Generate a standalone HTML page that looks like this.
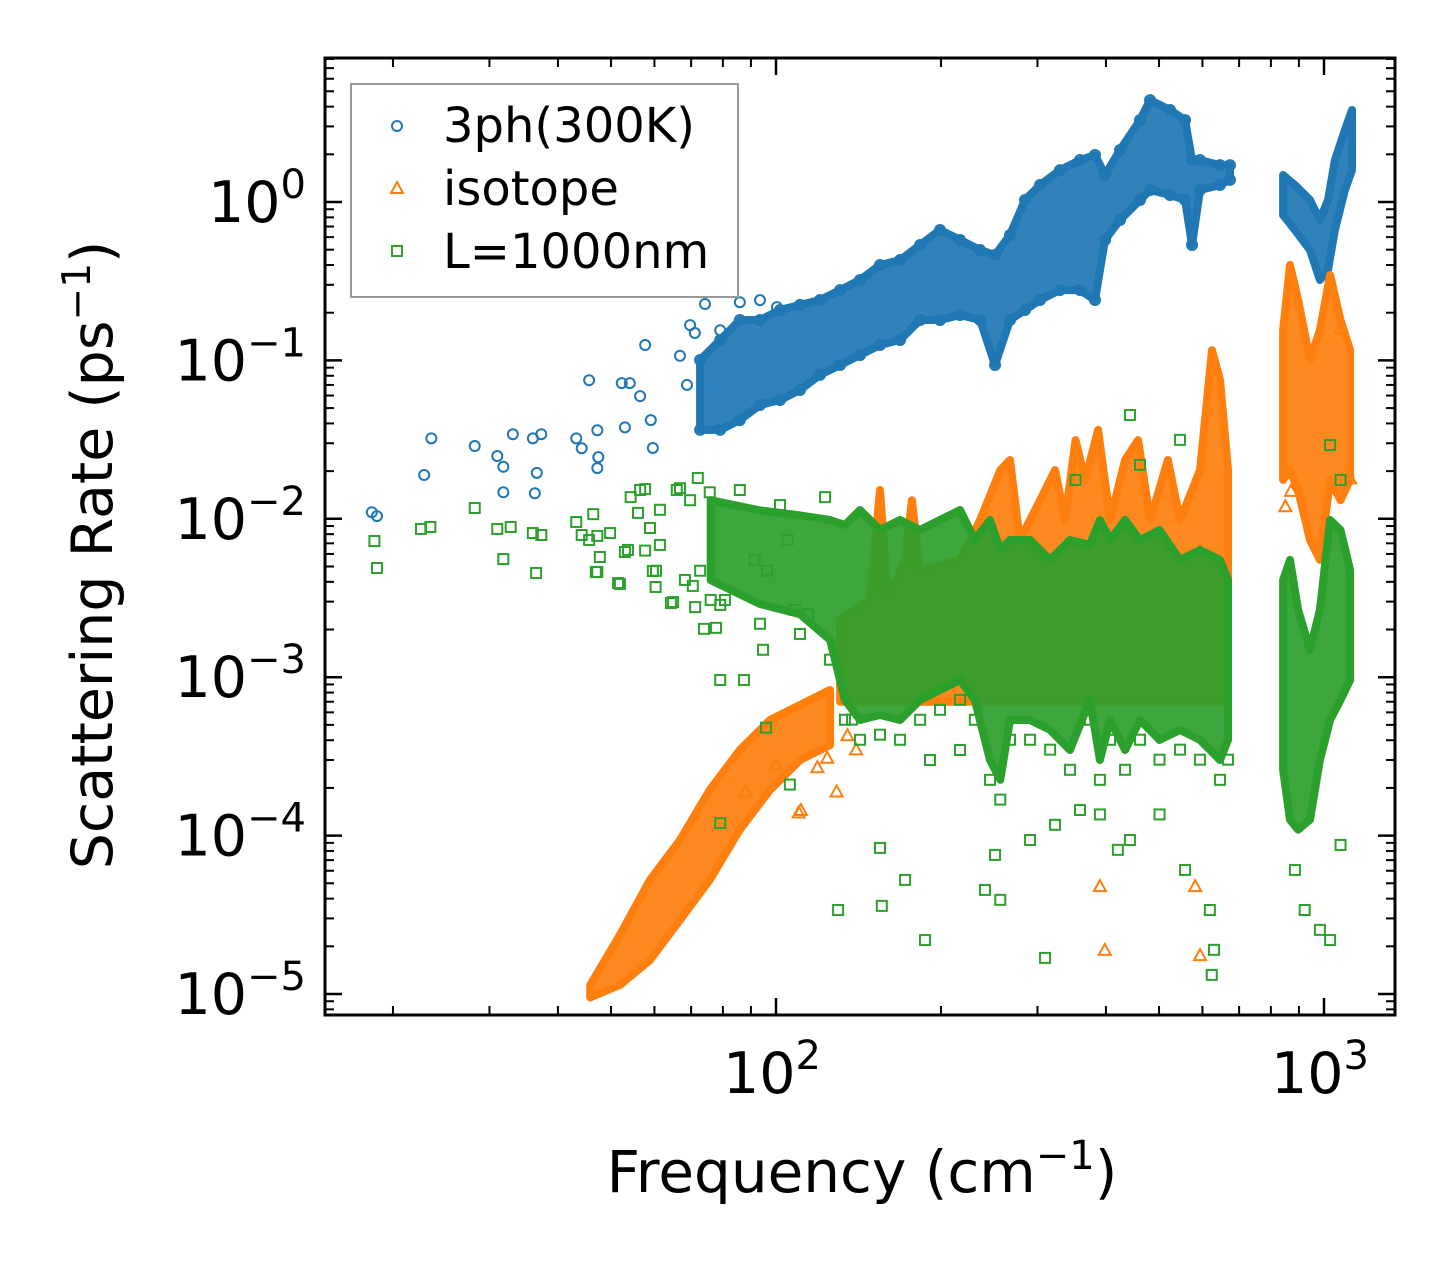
<!DOCTYPE html>
<html><head><meta charset="utf-8"><style>
html,body{margin:0;padding:0;background:#fff;}
svg{display:block;font-family:"DejaVu Sans","Liberation Sans",sans-serif;}
</style></head><body>
<svg id="chart" width="1455" height="1265" viewBox="0 0 1455 1265" xmlns="http://www.w3.org/2000/svg">
<rect x="0" y="0" width="1455" height="1265" fill="#fff"/>
<g id="marks"></g>
<g id="axes"></g>
<g id="legend">
<rect x="351" y="84" width="387" height="213" fill="#fff" fill-opacity="0.8" stroke="#999" stroke-width="2"/>
<circle cx="397" cy="126" r="5" fill="none" stroke="#1f77b4" stroke-width="2"/>
<text x="443" y="142" font-size="48" fill="#000">3ph(300K)</text>
<polygon points="397,182 403,193 391,193" fill="none" stroke="#ff7f0e" stroke-width="2"/>
<text x="443" y="205" font-size="48" fill="#000">isotope</text>
<rect x="392" y="246" width="10" height="10" fill="none" stroke="#2ca02c" stroke-width="2"/>
<text x="443" y="268" font-size="48" fill="#000">L=1000nm</text>
</g>
<text x="862" y="1192" font-size="58" text-anchor="middle">Frequency (cm<tspan font-size="40" dy="-23">−1</tspan><tspan dy="23">)</tspan></text>
<text transform="translate(112,555) rotate(-90)" font-size="57" text-anchor="middle">Scattering Rate (ps<tspan font-size="39" dy="-22">−1</tspan><tspan dy="22">)</tspan></text>
</svg>
<script>
// ---- data ----
const blueF = [18.3,18.7,22.8,23.5,28.2,31,31.8,31.8,33.1,36,36.6,37.3,36.3,43.2,44.2,45.6,47.2,47.4,47.2,52.3,54.1,53,56.5,57.7,59.1,59.6,66.8,68.8,69.7,71.1,74.2,79.1,85.9,93.5,100.4];
const blueR = [0.011,0.0104,0.0189,0.0322,0.0288,0.0249,0.0213,0.0147,0.0342,0.0322,0.0195,0.0342,0.0145,0.0322,0.0279,0.075,0.0362,0.0245,0.0209,0.0719,0.0719,0.0378,0.0595,0.125,0.042,0.028,0.107,0.07,0.167,0.149,0.227,0.155,0.233,0.24,0.217];
const blueBandF1 = [72.7,79.1,85.9,93.5,101.7,110.6,120.3,130.9,142.3,154.8,168.4,183.2,199.2,216.7,235.7,251,267.3,284.7,303.3,329.8,358.7,382.1,398.5,424.4,461.6,481.5,523.6,557.8,574.4,593.8,645.9,673.7];
const blueBandHi1 = [0.1006,0.1345,0.18,0.18,0.208,0.224,0.2405,0.278,0.322,0.40,0.43,0.535,0.666,0.576,0.498,0.463,0.619,1.03,1.28,1.59,1.84,1.98,1.48,2.13,3.29,4.40,3.81,3.29,1.84,1.84,1.71,1.71];
const blueBandLo1 = [0.0364,0.0364,0.042,0.0523,0.0562,0.065,0.081,0.0935,0.108,0.125,0.1345,0.18,0.18,0.1934,0.18,0.0935,0.18,0.208,0.2405,0.278,0.278,0.2405,0.576,0.77,1.03,1.19,1.107,1.03,0.535,1.19,1.28,1.38];
const blueBandF2 = [842,885,943,983,1017,1047,1092,1125];
const blueBandHi2 = [1.48,1.28,1.03,0.77,1.03,1.84,2.85,3.81];
const blueBandLo2 = [0.828,0.666,0.498,0.322,0.372,0.666,1.19,1.59];

const orangeBandF1 = [45.8,51.9,58.9,66.8,75.7,85.9,97.5,110.6,125.5];
const orangeBandHi1 = [1.14e-5,2.36e-5,5.25e-5,9.38e-5,1.94e-4,3.47e-4,5.37e-4,6.68e-4,8.3e-4];
const orangeBandLo1 = [9.5e-6,1.14e-5,1.64e-5,2.93e-5,5.25e-5,1.09e-4,1.94e-4,3.0e-4,3.73e-4];
const orangeBandF2 = [130.9,148.4,154.8,160.1,172,177,183.2,216.7,235.7,256.6,267.3,278.6,303.3,323,337,352,366.6,387,407,433.5,457.9,481.5,519,546,593.8,624.7,645.9,668];
const orangeBandHi2 = [0.0023,0.00307,0.0152,0.00307,0.0055,0.0131,0.0047,0.0055,0.00983,0.0203,0.0235,0.00735,0.0131,0.0203,0.00983,0.0314,0.0176,0.0364,0.00983,0.0235,0.0314,0.00983,0.0235,0.00983,0.0203,0.116,0.0752,0.0203];
const orangeBandLo2 = [7e-4,7e-4,7e-4,7e-4,7e-4,7e-4,7e-4,7e-4,7e-4,7e-4,7e-4,7e-4,7e-4,7e-4,7e-4,7e-4,7e-4,7e-4,7e-4,7e-4,7e-4,7e-4,7e-4,7e-4,7e-4,7e-4,7e-4,7e-4];
const orangeBandF3 = [842,867,897,943,983,1026,1072,1116];
const orangeBandHi3 = [0.155,0.40,0.2405,0.1006,0.155,0.346,0.18,0.116];
const orangeBandLo3 = [0.0176,0.0203,0.0152,0.00735,0.0055,0.0176,0.0131,0.0176];
const orangeF = [88,100,110,111,119,124,129,135,140,390,398,582,594,1072,1100,1116,850,870];
const orangeR = [1.9e-4,2.8e-4,1.4e-4,1.45e-4,2.7e-4,3.1e-4,1.9e-4,4.3e-4,3.5e-4,4.8e-5,1.9e-5,4.8e-5,1.76e-5,0.16,0.02,0.018,0.012,0.015];

const greenF = [18.5,18.7,22.5,23.4,28.2,31,31.8,32.8,36,36.5,37.3,43.2,44.2,45.6,47.2,47.2,51.5,53,54.3,56.5,57.7,60.4,61.4,64.3,65.9,68.2,69.7,72.7,75.7,77.7,79.1,80.7,85.9,87.4,91.5,94.7,96.3,101.7,105,108.3,114.4,122.9,95.9,79.1,106,129.8,137.6,154.8,156,172,187,191,216.7,240.6,251,256.6,290.8,309.7,323,358.7,390,420.6,442.5,501,557.8,619,630,624,885,922,983,1026,1072,442.5,352,546,461.6,1026,1072,
  46.4,56,61.4,47.7,46.9,51.9,53.7,58.9,59.6,60.3,64.9,71.2,70.5,73.9,79.1,66.8,72,57.7,49.8];
const greenR = [0.00724,0.00489,0.00863,0.00888,0.0117,0.00863,0.00557,0.00888,0.00813,0.00455,0.0079,0.00955,0.0079,0.00735,0.00462,0.0078,0.00393,0.00617,0.0137,0.0152,0.0063,0.0047,0.00684,0.00294,0.0152,0.00411,0.0131,0.0047,0.0147,0.00205,0.00096,0.00307,0.0152,0.00096,0.0055,0.00149,0.0047,0.0122,0.00735,0.00266,0.0025,0.0137,0.00048,0.00012,0.00021,3.39e-5,5.4e-4,8.36e-5,3.6e-5,5.25e-5,2.19e-5,3.0e-4,3.47e-4,4.54e-5,7.55e-5,3.93e-5,9.38e-5,1.69e-5,1.17e-4,1.45e-4,1.36e-4,8.13e-5,9.38e-5,1.36e-4,6.07e-5,3.39e-5,1.9e-5,1.32e-5,6.07e-5,3.39e-5,2.54e-5,2.19e-5,8.73e-5,0.0452,0.0176,0.0315,0.0219,0.0292,0.0176,
  0.0107,0.0109,0.0114,0.00574,0.00461,0.00388,0.00636,0.00875,0.00468,0.00371,0.00298,0.00277,0.00377,0.00202,0.00286,0.0156,0.0181,0.0154,0.00813];
const greenBandF1 = [76,93.5,110.6,125.5,133.6,142.3,154.8,168.4,183.2,199.2,216.7,230.6,245.8,256.6,267.3,290.8,316.4,344,374,390,407,433.5,461.6,501,546,593.8,645.9,668];
const greenBandHi1 = [0.0131,0.0113,0.0105,0.00983,0.00914,0.01137,0.0085,0.00983,0.0085,0.00983,0.01137,0.00735,0.00983,0.00636,0.00735,0.00735,0.0055,0.00735,0.00684,0.00983,0.00735,0.00983,0.00735,0.0085,0.0055,0.00636,0.0055,0.00411];
const greenBandLo1 = [0.0041,0.0029,0.0025,0.00172,0.000718,0.000537,0.000578,0.000537,0.000718,0.00083,0.00096,0.000718,0.0003,0.000225,0.000537,0.000537,0.000465,0.000347,0.000718,0.0003,0.000537,0.000347,0.000537,0.000402,0.000465,0.000402,0.0003,0.000402];
const greenBandF2 = [842,867,897,943,983,1026,1072,1116];
const greenBandHi2 = [0.00411,0.0055,0.00266,0.00149,0.00266,0.00983,0.0085,0.00475];
const greenBandLo2 = [0.00026,0.000126,0.000109,0.000126,0.0003,0.000537,0.000718,0.00096];

const xMajorTicks = [100,1000];
const xMajorLabels = ["2","3"];
const xMinorTicks = [20,30,40,50,60,70,80,90,200,300,400,500,600,700,800,900];
const yMajorTicks = [1,0.1,0.01,0.001,0.0001,0.00001];
const yMajorLabels = ["0","−1","−2","−3","−4","−5"];
const yMinorTicks = [];
for (const d of [-6,-5,-4,-3,-2,-1,0]) for (let m=2;m<=9;m++) yMinorTicks.push(m*Math.pow(10,d));

// ---- axes ----
const L=325,R=1395,T=58,B=1015;
const X = f => 776 + 548*(Math.log10(f)-2);
const Y = r => 202 - 158.4*Math.log10(r);
const NS="http://www.w3.org/2000/svg";
function mk(tag, attrs, parent){const e=document.createElementNS(NS,tag);for(const k in attrs)e.setAttribute(k,attrs[k]);parent.appendChild(e);return e;}
const marks=document.getElementById('marks');
const axes=document.getElementById('axes');

const clip=mk('clipPath',{id:'pc'},marks);
mk('rect',{x:L,y:T,width:R-L,height:B-T},clip);
const mg=mk('g',{'clip-path':'url(#pc)'},marks);

function band(F,H,Lo,color,name){
  const pts=[];
  for(let i=0;i<F.length;i++)pts.push(X(F[i]).toFixed(1)+','+Y(H[i]).toFixed(1));
  for(let i=F.length-1;i>=0;i--)pts.push(X(F[i]).toFixed(1)+','+Y(Lo[i]).toFixed(1));
  const p=mk('polygon',{points:pts.join(' '),fill:color,'fill-opacity':'0.92',stroke:color,'stroke-width':'8','stroke-linejoin':'round'},mg);
  
  
}
function circle(f,r,name){
  const c=mk('circle',{cx:X(f),cy:Y(r),r:5,fill:'none',stroke:'#1f77b4','stroke-width':2},mg);
  
  
}
function tri(f,r,name){
  const x=X(f),y=Y(r);
  const p=mk('polygon',{points:`${x},${y-6} ${x+6},${y+5} ${x-6},${y+5}`,fill:'none',stroke:'#ff7f0e','stroke-width':2},mg);
  
  
}
function sq(f,r,name){
  const s=mk('rect',{x:X(f)-5,y:Y(r)-5,width:10,height:10,fill:'none',stroke:'#2ca02c','stroke-width':2},mg);
  
  
}

// blue
band(blueBandF1,blueBandHi1,blueBandLo1,'#1f77b4','3ph-dense-region-low');
band(blueBandF2,blueBandHi2,blueBandLo2,'#1f77b4','3ph-dense-region-high');
for(let i=0;i<blueBandF1.length;i++){circle(blueBandF1[i],blueBandHi1[i],'3ph-point');circle(blueBandF1[i],blueBandLo1[i],'3ph-point');}
for(let i=0;i<blueF.length;i++)circle(blueF[i],blueR[i],'3ph-point');
// orange
band(orangeBandF1,orangeBandHi1,orangeBandLo1,'#ff7f0e','isotope-rising-region');
band(orangeBandF2,orangeBandHi2,orangeBandLo2,'#ff7f0e','isotope-mid-region');
band(orangeBandF3,orangeBandHi3,orangeBandLo3,'#ff7f0e','isotope-high-region');
for(let i=0;i<orangeF.length;i++)tri(orangeF[i],orangeR[i],'isotope-point');
// green
band(greenBandF1,greenBandHi1,greenBandLo1,'#2ca02c','boundary-dense-region-low');
band(greenBandF2,greenBandHi2,greenBandLo2,'#2ca02c','boundary-dense-region-high');
for(let i=0;i<greenF.length;i++)sq(greenF[i],greenR[i],'boundary-point');
for(let i=0;i<greenBandF1.length;i++)sq(greenBandF1[i],greenBandLo1[i]*0.75,'boundary-point');

// ticks
function line(x1,y1,x2,y2,w,name){
  const l=mk('line',{x1,y1,x2,y2,stroke:'#000','stroke-width':w},axes);
  
  
}
xMajorTicks.forEach((t,i)=>{
  const x=X(t);
  line(x,B,x,B-17,2.5,'x-major-tick');line(x,T,x,T+17,2.5,'x-major-tick');
  const tx=mk('text',{x:x-4,y:1093,'font-size':57,'text-anchor':'middle'},axes);
  
  
  tx.textContent='10';
  const sp=mk('tspan',{'font-size':40,dy:-24},tx);sp.textContent=xMajorLabels[i];
});
xMinorTicks.forEach(t=>{const x=X(t);if(x<L||x>R)return;line(x,B,x,B-9,2,'x-minor-tick');line(x,T,x,T+9,2,'x-minor-tick');});
yMajorTicks.forEach((t,i)=>{
  const y=Y(t);
  line(L,y,L+17,y,2.5,'y-major-tick');line(R,y,R-17,y,2.5,'y-major-tick');
  const tx=mk('text',{x:306,y:y+20,'font-size':57,'text-anchor':'end'},axes);
  
  
  const a=mk('tspan',{},tx);a.textContent='10';
  const sp=mk('tspan',{'font-size':40,dy:-24},tx);sp.textContent=yMajorLabels[i];
});
yMinorTicks.forEach(t=>{const y=Y(t);if(y<T||y>B)return;line(L,y,L+9,y,2,'y-minor-tick');line(R,y,R-9,y,2,'y-minor-tick');});
const fr=mk('rect',{x:L,y:T,width:R-L,height:B-T,fill:'none',stroke:'#000','stroke-width':3},axes);


</script>
</body></html>
